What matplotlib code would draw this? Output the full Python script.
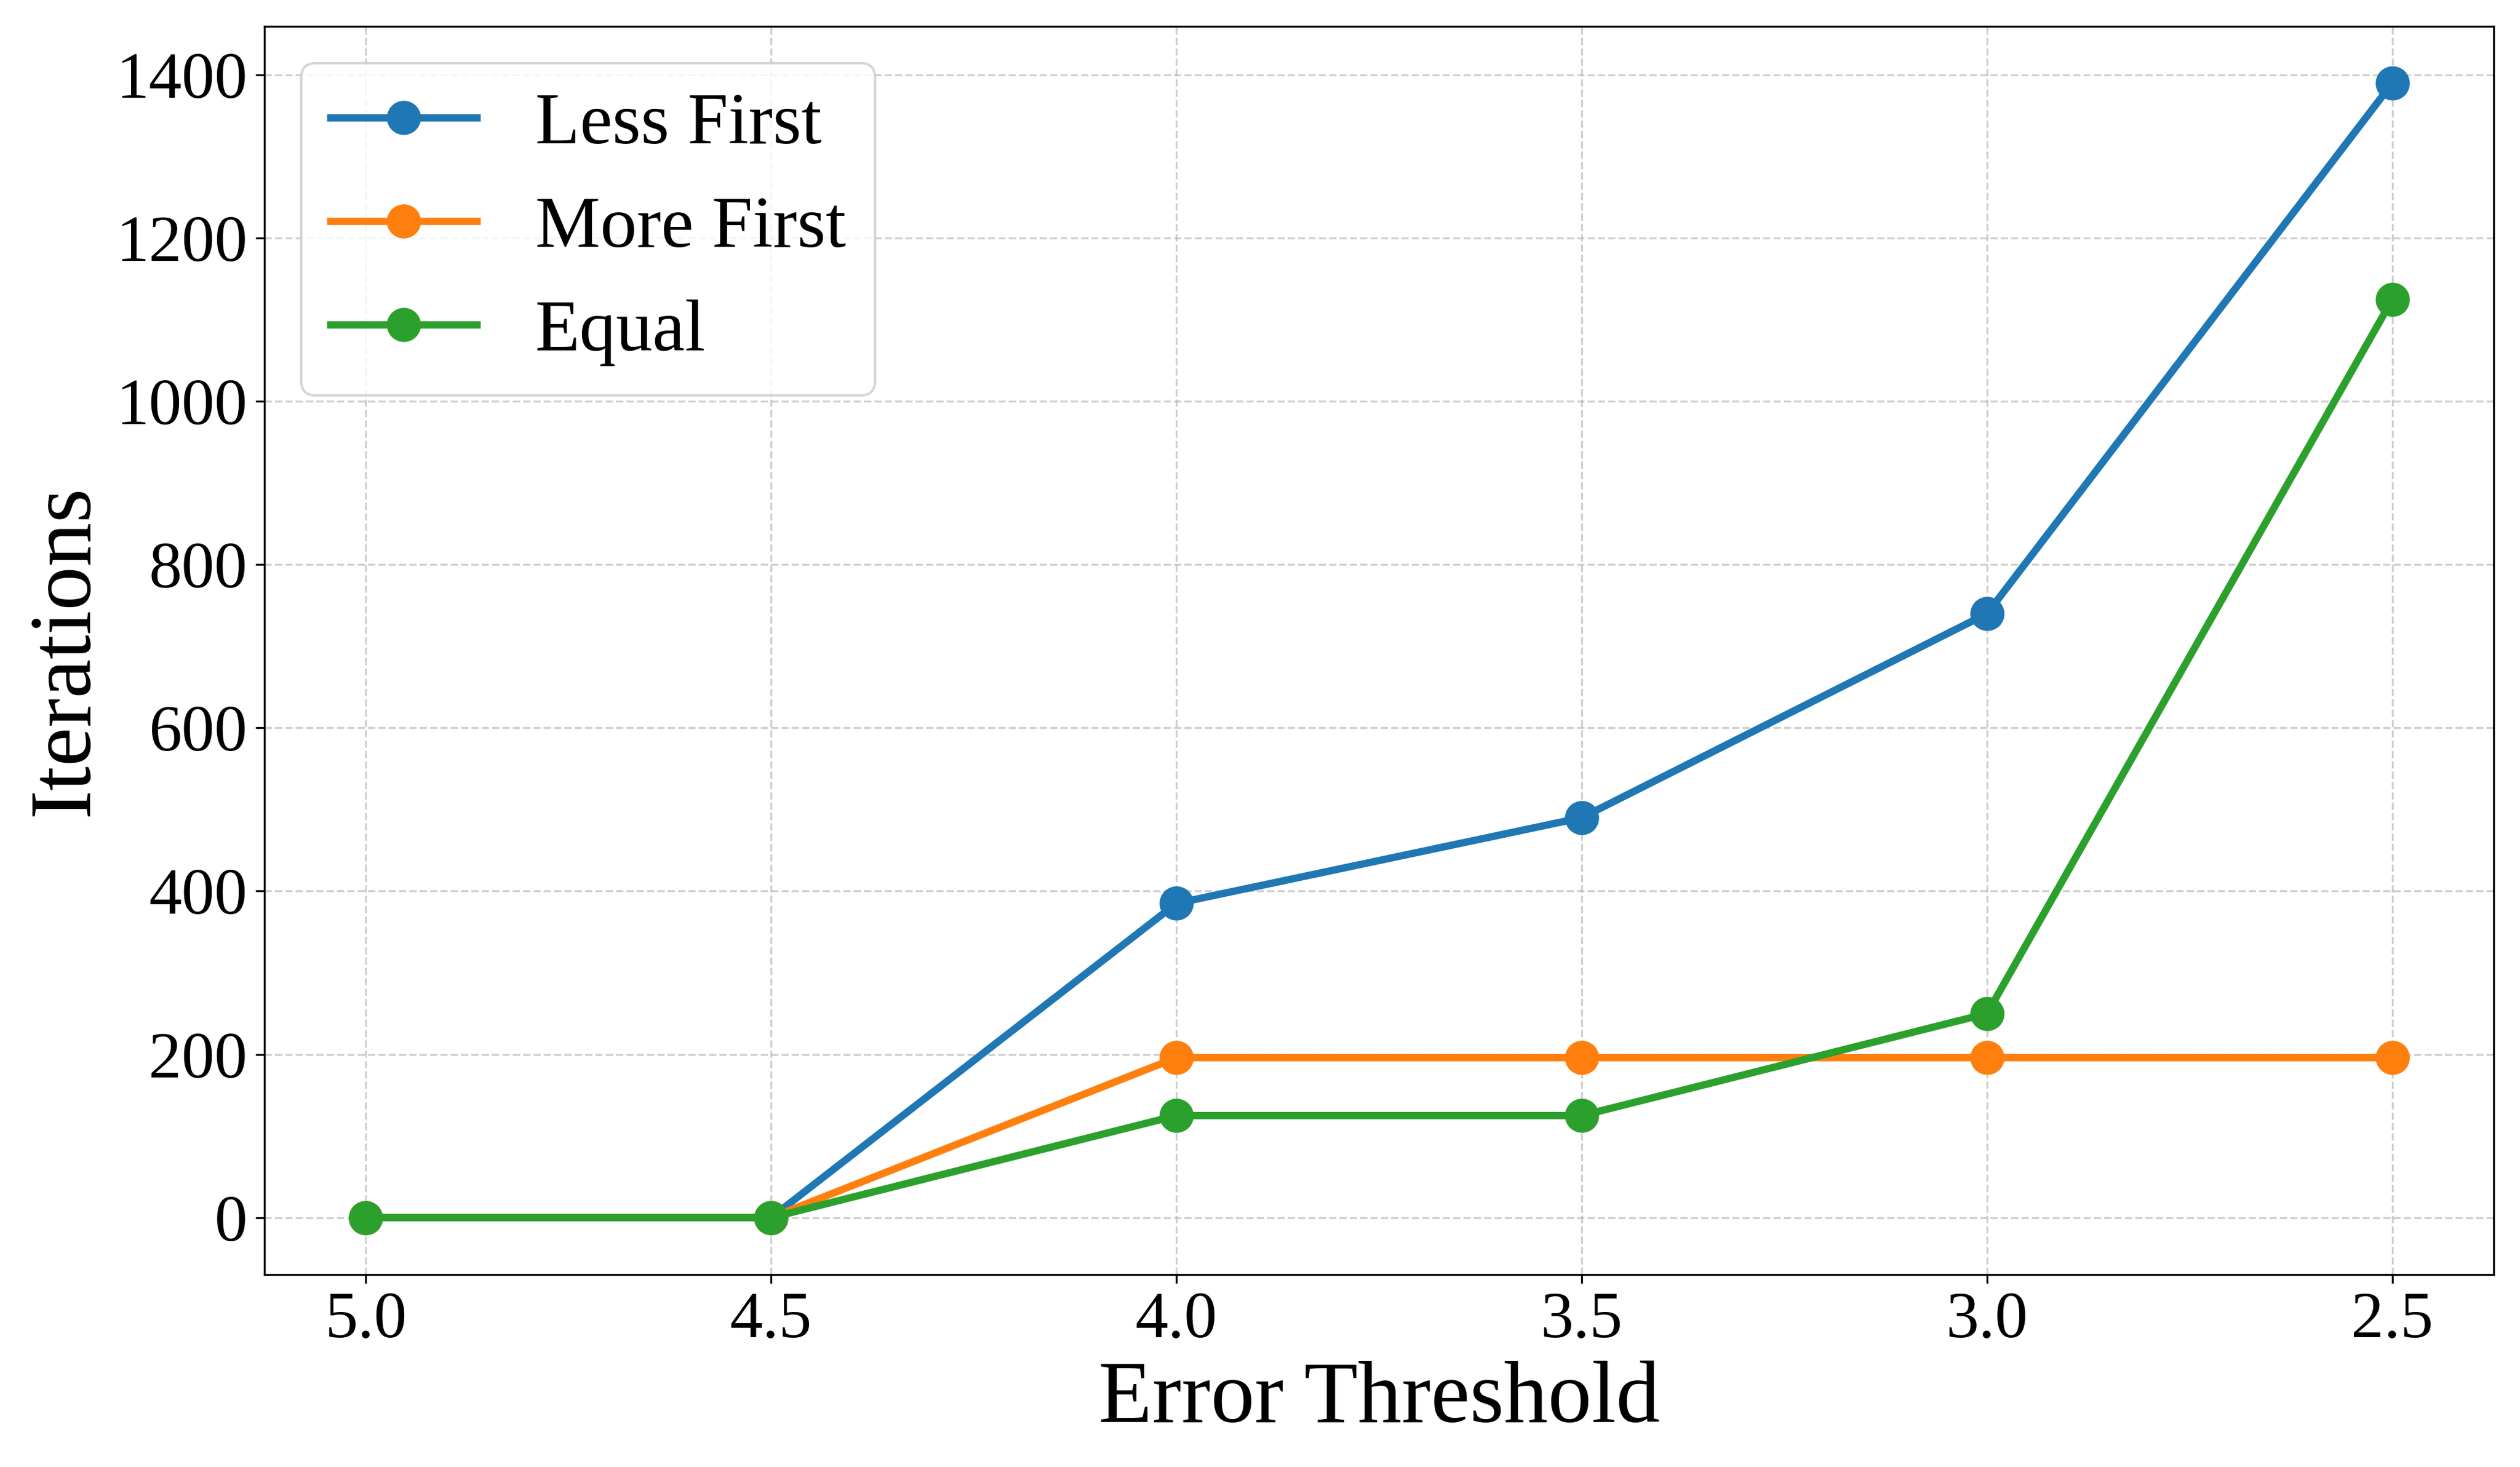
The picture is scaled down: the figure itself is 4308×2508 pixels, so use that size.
import matplotlib.pyplot as plt

thresholds = [5.0, 4.5, 4.0, 3.5, 3.0, 2.5]
less_first = [0, 0, 385, 490, 740, 1390]
more_first = [0, 0, 196, 196, 196, 196]
equal = [0, 0, 125, 125, 250, 1125]

plt.rcParams['font.family'] = ['Liberation Serif', 'DejaVu Serif']

fig, ax = plt.subplots(figsize=(14.36, 8.36), dpi=300)
ax.plot(thresholds, less_first, marker='o', color='#1f77b4', lw=3, ms=13, label='Less First')
ax.plot(thresholds, more_first, marker='o', color='#ff7f0e', lw=3, ms=13, label='More First')
ax.plot(thresholds, equal, marker='o', color='#2ca02c', lw=3, ms=13, label='Equal')

ax.invert_xaxis()
ax.set_xticks(thresholds)
ax.set_xticklabels([f'{t:.1f}' for t in thresholds])
ax.set_xlabel('Error Threshold', fontsize=36)
ax.set_ylabel('Iterations', fontsize=36)
ax.tick_params(labelsize=27)
ax.grid(True, linestyle='--', alpha=0.6)
ax.legend(loc='upper left', fontsize=30)

plt.tight_layout()
plt.savefig('out.png')
